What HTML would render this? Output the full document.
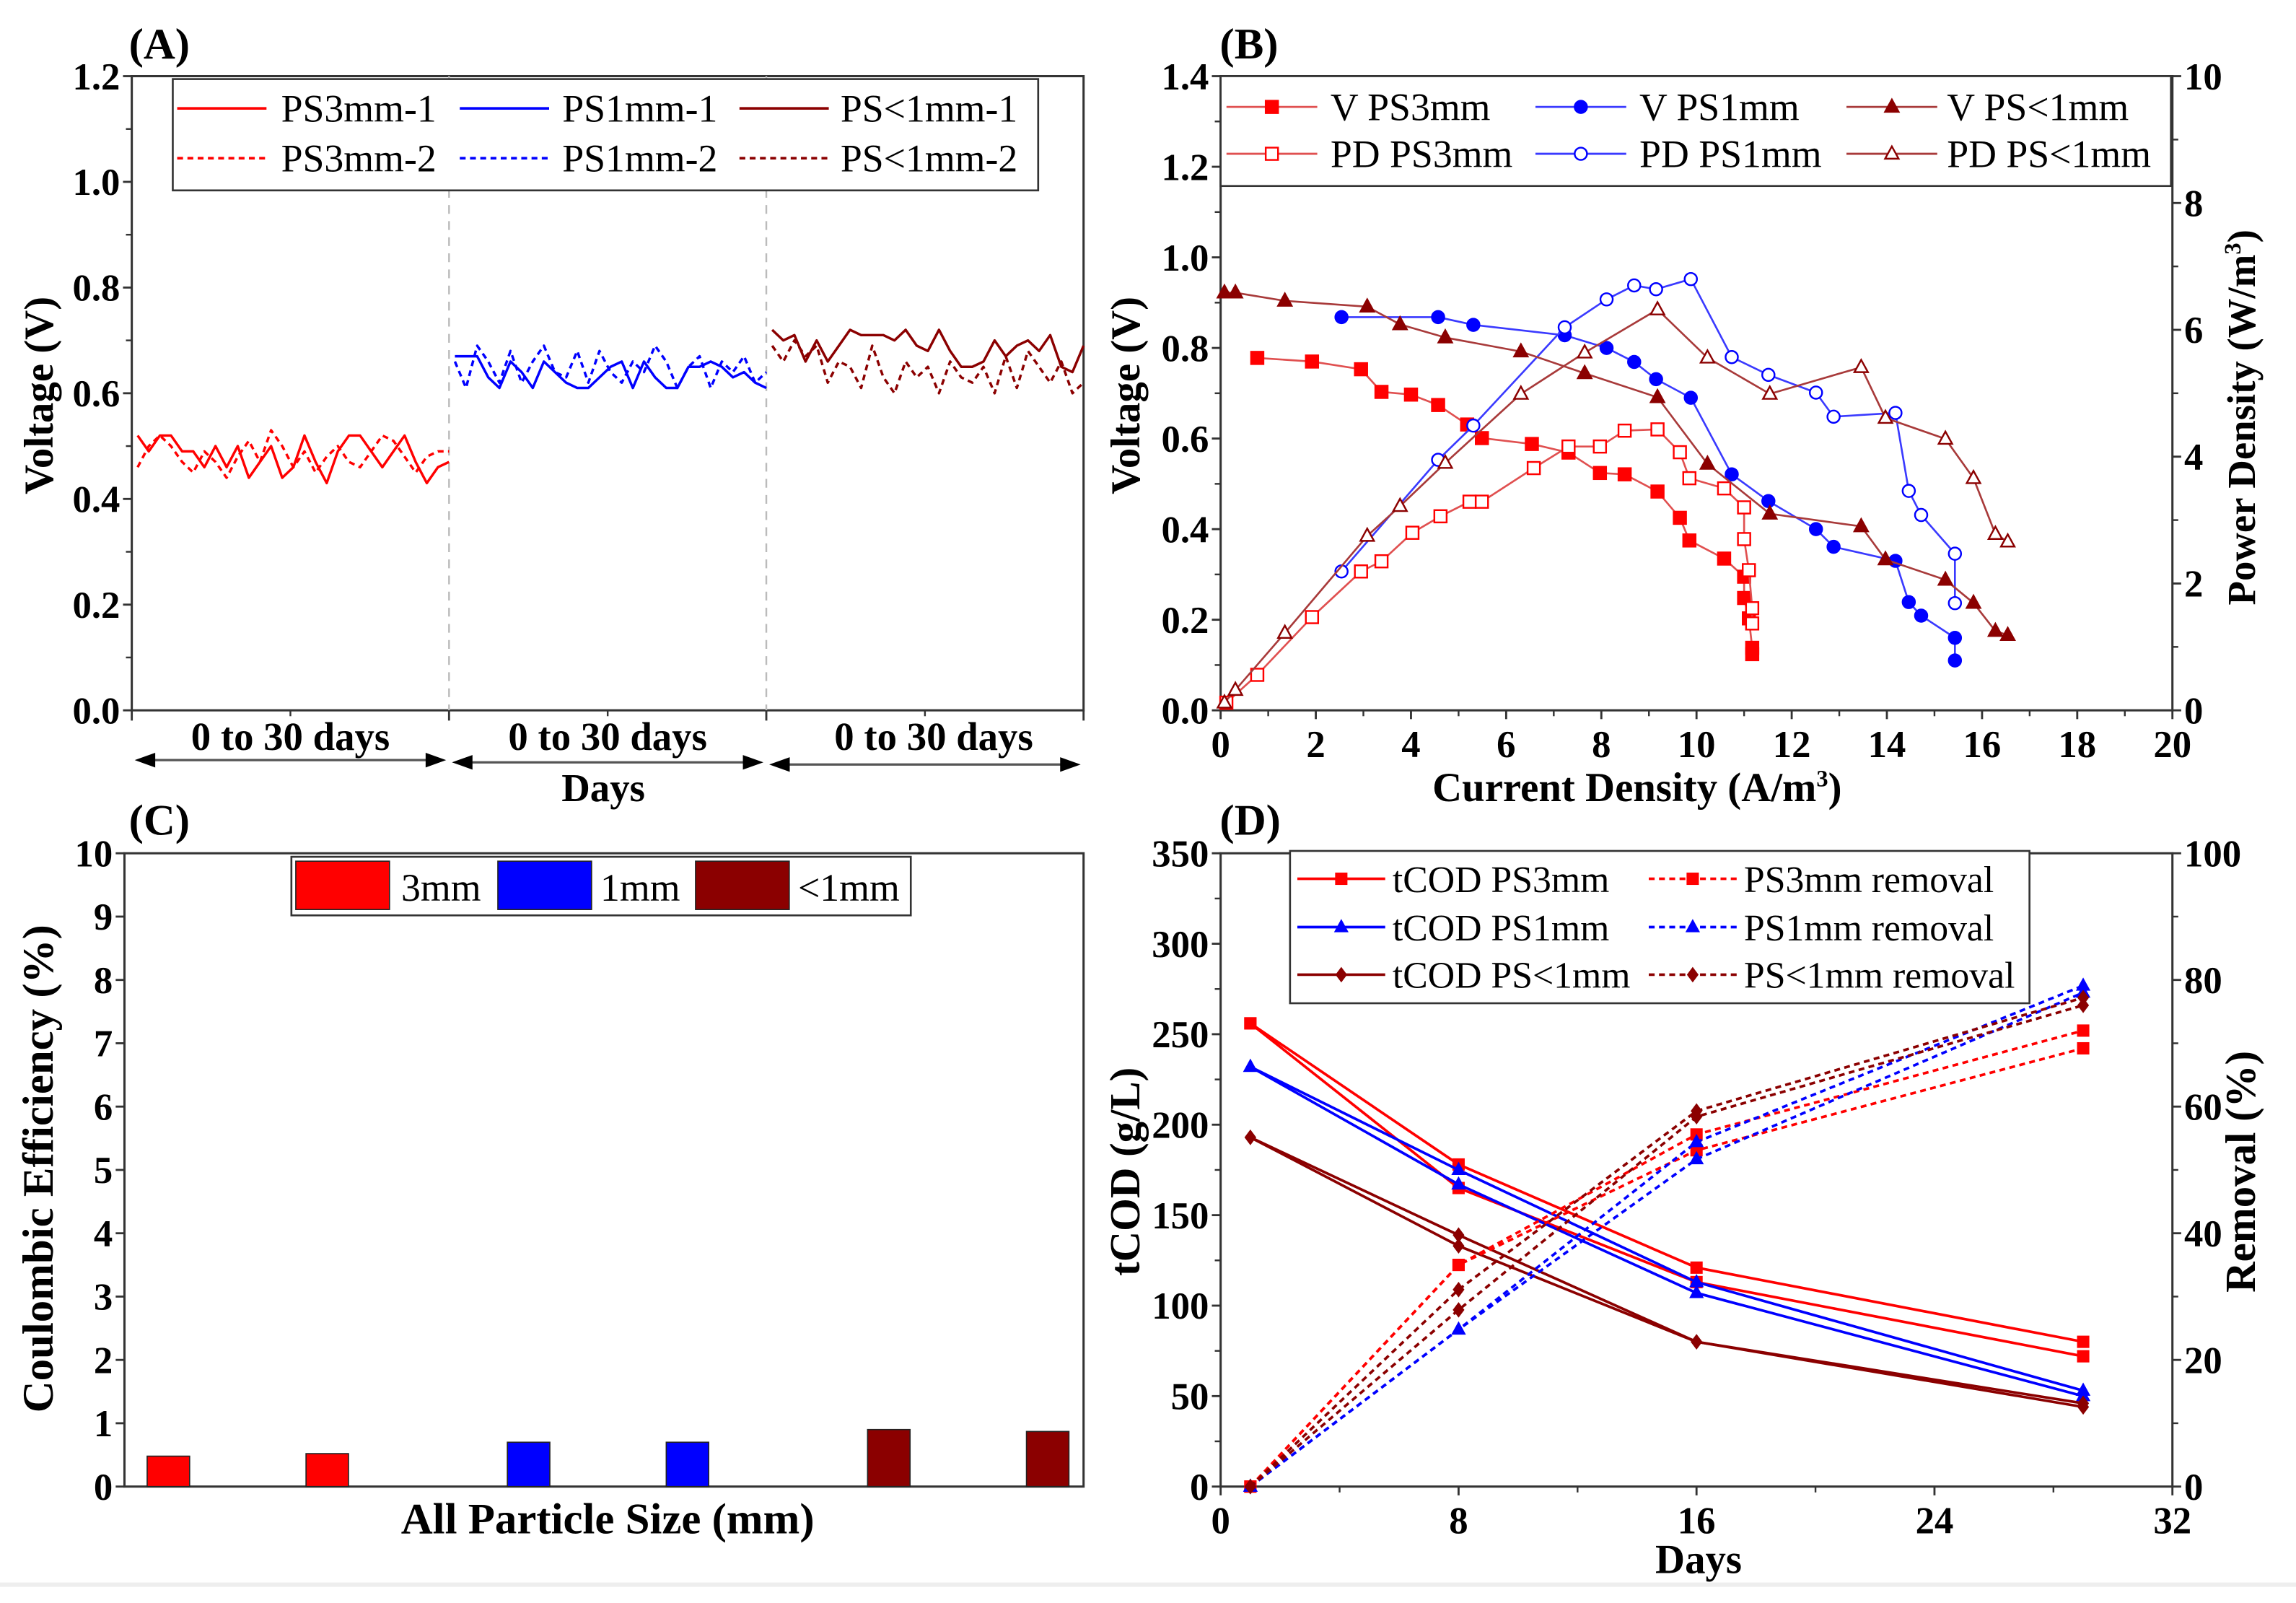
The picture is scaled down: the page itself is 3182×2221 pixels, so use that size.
<!DOCTYPE html>
<html><head><meta charset="utf-8"><style>
html,body{margin:0;padding:0;background:#fff}
svg{display:block}
text{font-family:"Liberation Serif",serif}
</style></head><body>
<svg id="fig" width="3182" height="2221" viewBox="0 0 1568 1094.5" preserveAspectRatio="none" xmlns="http://www.w3.org/2000/svg">
<rect x="0" y="0" width="1568" height="1094.5" fill="#fff"/>
<line x1="0" y1="1082" x2="1568" y2="1082" stroke="#eeeeee" stroke-width="3"/>
</svg>
<script>
// ---------- Panel A data ----------
const aSegLabels = ["0 to 30 days","0 to 30 days","0 to 30 days"];
const aPS3_1 = [0.52,0.49,0.52,0.52,0.49,0.49,0.46,0.50,0.46,0.50,0.44,0.47,0.50,0.44,0.46,0.52,0.47,0.43,0.49,0.52,0.52,0.49,0.46,0.49,0.52,0.47,0.43,0.46,0.47];
const aPS3_2 = [0.46,0.50,0.52,0.50,0.47,0.45,0.49,0.47,0.44,0.48,0.51,0.47,0.53,0.50,0.46,0.49,0.45,0.48,0.50,0.47,0.46,0.49,0.52,0.51,0.48,0.45,0.48,0.49,0.49];
const aPS1_1 = [0.67,0.67,0.67,0.63,0.61,0.66,0.64,0.61,0.66,0.64,0.62,0.61,0.61,0.63,0.65,0.66,0.61,0.66,0.63,0.61,0.61,0.65,0.65,0.66,0.65,0.63,0.64,0.62,0.61];
const aPS1_2 = [0.66,0.61,0.69,0.66,0.62,0.68,0.62,0.66,0.69,0.64,0.63,0.68,0.62,0.68,0.64,0.62,0.66,0.64,0.69,0.66,0.61,0.65,0.67,0.61,0.66,0.64,0.67,0.62,0.64];
const aPSs_1 = [0.72,0.70,0.71,0.66,0.70,0.66,0.69,0.72,0.71,0.71,0.71,0.70,0.72,0.69,0.68,0.72,0.68,0.65,0.65,0.66,0.70,0.67,0.69,0.70,0.68,0.71,0.65,0.64,0.69];
const aPSs_2 = [0.69,0.66,0.70,0.67,0.69,0.62,0.66,0.65,0.61,0.69,0.63,0.60,0.66,0.63,0.65,0.60,0.66,0.63,0.62,0.65,0.60,0.67,0.61,0.68,0.65,0.62,0.66,0.60,0.62];
const aYTicks = [0,0.2,0.4,0.6,0.8,1.0,1.2];
// ---------- Panel B data ----------
const bX3 = [0.77,1.92,2.95,3.38,4.0,4.57,5.18,5.49,6.54,7.31,7.97,8.49,9.18,9.65,9.85,10.58,11.0,11.0,11.1,11.17,11.17];
const bV3 = [0.778,0.770,0.753,0.703,0.697,0.674,0.631,0.601,0.588,0.569,0.524,0.521,0.483,0.425,0.375,0.335,0.295,0.248,0.203,0.138,0.124];
const bXP3 = [0.12,0.77,1.92,2.95,3.38,4.03,4.62,5.23,5.49,6.58,7.31,7.97,8.49,9.18,9.65,9.85,10.58,11.0,11.0,11.1,11.17,11.17];
const bPD3 = [0.12,0.56,1.47,2.19,2.35,2.80,3.06,3.29,3.29,3.82,4.16,4.16,4.41,4.43,4.07,3.66,3.50,3.20,2.70,2.21,1.61,1.37];
const bX1 = [2.54,4.57,5.31,7.23,8.11,8.69,9.15,9.88,10.74,11.51,12.51,12.88,14.18,14.46,14.72,15.43,15.43];
const bV1 = [0.868,0.868,0.851,0.828,0.800,0.769,0.731,0.690,0.521,0.462,0.400,0.361,0.330,0.239,0.209,0.160,0.110];
const bPD1 = [2.19,3.95,4.49,6.04,6.48,6.70,6.64,6.80,5.57,5.29,5.01,4.63,4.69,3.46,3.08,2.47,1.69];
const bXs = [0.08,0.31,1.35,3.08,3.77,4.72,6.31,7.65,9.18,10.23,11.54,13.46,13.97,15.23,15.82,16.28,16.54];
const bVs = [0.922,0.922,0.904,0.891,0.852,0.823,0.792,0.744,0.691,0.544,0.434,0.406,0.333,0.288,0.237,0.175,0.166];
const bPDs = [0.12,0.32,1.22,2.75,3.22,3.90,4.99,5.64,6.32,5.56,4.99,5.41,4.61,4.28,3.66,2.78,2.66];
const bXTicks = [0,2,4,6,8,10,12,14,16,18,20];
const bYTicks = [0,0.2,0.4,0.6,0.8,1.0,1.2,1.4];
const bY2Ticks = [0,2,4,6,8,10];
// ---------- Panel C data ----------
const cGroups = ["3mm","1mm","<1mm"];
const cValues = [0.48,0.52,0.70,0.70,0.90,0.87];
const cYTicks = [0,1,2,3,4,5,6,7,8,9,10];
// ---------- Panel D data ----------
const dDays = [1,8,16,29];
const dCOD3a = [256,178,121,80];
const dCOD3b = [256,165,113,72];
const dCOD1a = [232,175,113,53];
const dCOD1b = [232,167,107,50];
const dCODsa = [193,139,80,46];
const dCODsb = [193,133,80,44];
const dRem3a = [0,35.0,55.6,72.0];
const dRem3b = [0,35.0,53.1,69.2];
const dRem1a = [0,24.8,54.4,79.1];
const dRem1b = [0,24.8,51.7,78.0];
const dRemsa = [0,31.1,59.3,77.2];
const dRemsb = [0,27.9,58.4,76.0];
const dXTicks = [0,8,16,24,32];
const dYTicks = [0,50,100,150,200,250,300,350];
const dY2Ticks = [0,20,40,60,80,100];

const NS="http://www.w3.org/2000/svg";
const svg=document.getElementById('fig');
const RED="#ff0000", BLUE="#0000ff", DRED="#8b0000";
const TICK=26, LEG=26.5, TITLE=29;
function mk(tag,attrs,parent){const e=document.createElementNS(NS,tag);for(const k in attrs)e.setAttribute(k,attrs[k]);(parent||svg).appendChild(e);return e;}
function txt(s,x,y,size,anchor,weight,parent,rot){const t=mk('text',{x:x,y:y,'font-size':size,'text-anchor':anchor||'middle','font-weight':weight||'bold',fill:'#000'},parent);if(rot)t.setAttribute('transform','rotate(-90 '+x+' '+y+')');t.textContent=s;return t;}
function lin(d0,d1,r0,r1){return v=>r0+(v-d0)/(d1-d0)*(r1-r0);}
function poly(xs,ys,sx,sy,color,dash,w,name,parent){const pts=xs.map((x,i)=>sx(x).toFixed(2)+','+sy(ys[i]).toFixed(2)).join(' ');const p=mk('polyline',{points:pts,fill:'none',stroke:color,'stroke-width':w||1.6,'stroke-linejoin':'round'},parent);if(dash)p.setAttribute('stroke-dasharray',dash);


return p;}
function marker(type,x,y,color,filled,parent,s){s=s||4.2;let e;const f=filled?color:'#fff';
if(type==='sq')e=mk('rect',{x:x-s,y:y-s,width:2*s,height:2*s,fill:f,stroke:color,'stroke-width':1.2},parent);
else if(type==='ci')e=mk('circle',{cx:x,cy:y,r:s,fill:f,stroke:color,'stroke-width':1.2},parent);
else if(type==='tr')e=mk('polygon',{points:(x)+','+(y-s*1.2)+' '+(x-s*1.1)+','+(y+s*0.8)+' '+(x+s*1.1)+','+(y+s*0.8),fill:f,stroke:color,'stroke-width':1.2},parent);
else e=mk('polygon',{points:x+','+(y-s*1.2)+' '+(x+s*0.9)+','+y+' '+x+','+(y+s*1.2)+' '+(x-s*0.9)+','+y,fill:f,stroke:color,'stroke-width':1.2},parent);


return e;}
function frame(x0,y0,x1,y1,parent){mk('rect',{x:x0,y:y0,width:x1-x0,height:y1-y0,fill:'none',stroke:'#333','stroke-width':1.5},parent);}
function yAxis(ticks,sy,x,side,parent,fmt,minor){ticks.forEach((v,i)=>{const y=sy(v);mk('line',{x1:x,y1:y,x2:x+(side<0?-6:6),y2:y,stroke:'#333','stroke-width':1.4},parent);
txt(fmt(v),x+(side<0?-8:8),y+9,TICK,side<0?'end':'start','bold',parent);
if(minor&&i<ticks.length-1){const ym=sy((v+ticks[i+1])/2);mk('line',{x1:x,y1:ym,x2:x+(side<0?-4:4),y2:ym,stroke:'#333','stroke-width':1.2},parent);}});}
function xAxis(ticks,sx,y,parent,fmt,minor){ticks.forEach((v,i)=>{const x=sx(v);mk('line',{x1:x,y1:y,x2:x,y2:y+6,stroke:'#333','stroke-width':1.4},parent);
txt(fmt(v),x,y+32,TICK,'middle','bold',parent);
if(minor&&i<ticks.length-1){const xm=sx((v+ticks[i+1])/2);mk('line',{x1:xm,y1:y,x2:xm,y2:y+4,stroke:'#333','stroke-width':1.2},parent);}});}

// ================= Panel A =================
(function(){
const g=mk('g',{});


const X0=90,X1=740,Y0=52,Y1=485;
const sy=lin(0,1.2,Y1,Y0);
txt('(A)',88,40,30,'start','bold',g);
frame(X0,Y0,X1,Y1,g);
const segW=(X1-X0)/3;
[1,2].forEach(k=>mk('line',{x1:X0+k*segW,y1:Y0,x2:X0+k*segW,y2:Y1,stroke:'#bbb','stroke-width':1.2,'stroke-dasharray':'6,5'},g));
yAxis(aYTicks,sy,X0,-1,g,v=>v.toFixed(1),true);
const series=[[aPS3_1,RED,null,0,'ps3mm-1-line'],[aPS3_2,RED,'4,3',0,'ps3mm-2-line'],[aPS1_1,BLUE,null,1,'ps1mm-1-line'],[aPS1_2,BLUE,'4,3',1,'ps1mm-2-line'],[aPSs_1,DRED,null,2,'pslt1mm-1-line'],[aPSs_2,DRED,'4,3',2,'pslt1mm-2-line']];
series.forEach(s=>{const vals=s[0];const sx=lin(0,vals.length-1,X0+s[3]*segW+4,X0+(s[3]+1)*segW);
poly(vals.map((v,i)=>i),vals,sx,sy,s[1],s[2],1.7,s[4],g);});
for(let k=0;k<=3;k++){mk('line',{x1:X0+k*segW,y1:Y1,x2:X0+k*segW,y2:Y1+7,stroke:'#333','stroke-width':1.4},g);}
for(let k=0;k<3;k++){mk('line',{x1:X0+(k+0.5)*segW,y1:Y1,x2:X0+(k+0.5)*segW,y2:Y1+4,stroke:'#333','stroke-width':1.2},g);}
aSegLabels.forEach((s,k)=>{const cx=X0+(k+0.5)*segW+(k==2?6:0);const t=txt(s,cx,512,TICK+1,'middle','bold',g);


const ay=519+k*1.5, ax0=X0+k*segW+2, ax1=X0+(k+1)*segW-2;
mk('line',{x1:ax0+10,y1:ay,x2:ax1-10,y2:ay,stroke:'#555','stroke-width':1.6},g);
mk('polygon',{points:ax0+','+ay+' '+(ax0+14)+','+(ay-5)+' '+(ax0+14)+','+(ay+5),fill:'#000'},g);
mk('polygon',{points:ax1+','+ay+' '+(ax1-14)+','+(ay-5)+' '+(ax1-14)+','+(ay+5),fill:'#000'},g);});
const xt=txt('Days',412,547,TITLE-2,'middle','bold',g);


const yt=txt('Voltage (V)',36,270,TITLE-1,'middle','bold',g,true);


const lg=mk('g',{},g);


mk('rect',{x:118,y:54,width:591,height:76,fill:'#fff',stroke:'#333','stroke-width':1.3},lg);
const cols=[[121,192],[314,384],[505,574]];
const ents=[['PS3mm-1',RED,null,0,0],['PS1mm-1',BLUE,null,1,0],['PS<1mm-1',DRED,null,2,0],['PS3mm-2',RED,'4,3',0,1],['PS1mm-2',BLUE,'4,3',1,1],['PS<1mm-2',DRED,'4,3',2,1]];
ents.forEach(e=>{const c=cols[e[3]];const y=e[4]?108:74;
const l=mk('line',{x1:c[0],y1:y,x2:c[0]+61,y2:y,stroke:e[1],'stroke-width':1.8},lg);if(e[2])l.setAttribute('stroke-dasharray',e[2]);
const t=txt(e[0],c[1],y+9,LEG,'start','normal',lg);

});
})();

// ================= Panel B =================
(function(){
const g=mk('g',{});


const X0=833.6,X1=1483.6,Y0=52,Y1=485;
const sx=lin(0,20,X0,X1), sy=lin(0,1.4,Y1,Y0), sy2=lin(0,10,Y1,Y0);
txt('(B)',833,40,30,'start','bold',g);
frame(X0,Y0,X1,Y1,g);
yAxis(bYTicks,sy,X0,-1,g,v=>v.toFixed(1),true);
yAxis(bY2Ticks,sy2,X1,1,g,v=>String(v),true);
xAxis(bXTicks,sx,Y1,g,v=>String(v),true);
const LR="#e05050", LB="#3a3aff", LD="#a83a3a";
const S=[[bX3,bV3,sy,'sq',RED,LR,true,'v-ps3mm-line'],[bXP3,bPD3,sy2,'sq',RED,LR,false,'pd-ps3mm-line'],[bX1,bV1,sy,'ci',BLUE,LB,true,'v-ps1mm-line'],[bX1,bPD1,sy2,'ci',BLUE,LB,false,'pd-ps1mm-line'],[bXs,bVs,sy,'tr',DRED,LD,true,'v-pslt1mm-line'],[bXs,bPDs,sy2,'tr',DRED,LD,false,'pd-pslt1mm-line']];
S.forEach(s=>{poly(s[0],s[1],sx,s[2],s[5],null,1.3,s[7],g);s[0].forEach((x,i)=>marker(s[3],sx(x),s[2](s[1][i]),s[4],s[6],g));});
const xt=txt('Current Density (A/m',1118,547,TITLE-1,'middle','bold',g);


const sup=mk('tspan',{dy:-10,'font-size':16},xt);sup.textContent='3';
const cl=mk('tspan',{dy:10},xt);cl.textContent=')';
const yt=txt('Voltage (V)',778,270,TITLE-1,'middle','bold',g,true);


const yt2=txt('Power Density (W/m',1540,285,TITLE-2,'middle','bold',g,true);


const s2=mk('tspan',{dy:-10,'font-size':16},yt2);s2.textContent='3';
const c2=mk('tspan',{dy:10},yt2);c2.textContent=')';
const lg=mk('g',{},g);


mk('rect',{x:833.6,y:52,width:649,height:75,fill:'#fff',stroke:'#333','stroke-width':1.3},lg);
const cols=[[837.6,908.6],[1048.6,1119.6],[1261,1329.6]];
const ents=[['V PS3mm','sq',RED,LR,true,0,0],['V PS1mm','ci',BLUE,LB,true,1,0],['V PS<1mm','tr',DRED,LD,true,2,0],['PD PS3mm','sq',RED,LR,false,0,1],['PD PS1mm','ci',BLUE,LB,false,1,1],['PD PS<1mm','tr',DRED,LD,false,2,1]];
ents.forEach(e=>{const c=cols[e[5]];const y=e[6]?105:73;
mk('line',{x1:c[0],y1:y,x2:c[0]+62,y2:y,stroke:e[3],'stroke-width':1.4},lg);
marker(e[1],c[0]+31,y,e[2],e[4],lg);
const t=txt(e[0],c[1],y+9,LEG,'start','normal',lg);

});
})();

// ================= Panel C =================
(function(){
const g=mk('g',{});


const X0=85,X1=740,Y0=582.6,Y1=1015;
const sy=lin(0,10,Y1,Y0);
txt('(C)',88,570,30,'start','bold',g);
frame(X0,Y0,X1,Y1,g);
yAxis(cYTicks,sy,X0,-1,g,v=>String(v),false);
const cols=[RED,BLUE,DRED];
const bx=(gi,m)=>115+gi*246+m*108.5;
cValues.forEach((v,i)=>{const gi=Math.floor(i/2),m=i%2;const r=mk('rect',{x:bx(gi,m)-14.5,y:sy(v),width:29,height:Y1-sy(v),fill:cols[gi],stroke:'#222','stroke-width':0.8},g);

});
const xt=txt('All Particle Size (mm)',415,1047,TITLE+1,'middle','bold',g);


const yt=txt('Coulombic Efficiency (%)',36,798,TITLE+1,'middle','bold',g,true);


const lg=mk('g',{},g);


mk('rect',{x:199,y:585,width:423,height:40,fill:'#fff',stroke:'#333','stroke-width':1.3},lg);
const sw=[[202,274],[340,410],[475,545]];
cGroups.forEach((s,i)=>{mk('rect',{x:sw[i][0],y:588,width:64,height:33,fill:cols[i],stroke:'#222','stroke-width':0.8},lg);
const t=txt(s,sw[i][1],615,LEG,'start','normal',lg);

});
})();

// ================= Panel D =================
(function(){
const g=mk('g',{});


const X0=833.6,X1=1483.6,Y0=582.6,Y1=1015;
const sx=lin(0,32,X0,X1), sy=lin(0,350,Y1,Y0), sy2=lin(0,100,Y1,Y0);
txt('(D)',833,570,30,'start','bold',g);
frame(X0,Y0,X1,Y1,g);
yAxis(dYTicks,sy,X0,-1,g,v=>String(v),true);
yAxis(dY2Ticks,sy2,X1,1,g,v=>String(v),true);
xAxis(dXTicks,sx,Y1,g,v=>String(v),true);
const S=[[dCOD3a,sy,RED,'sq',null,'tcod-ps3mm-a'],[dCOD3b,sy,RED,'sq',null,'tcod-ps3mm-b'],[dCOD1a,sy,BLUE,'tr',null,'tcod-ps1mm-a'],[dCOD1b,sy,BLUE,'tr',null,'tcod-ps1mm-b'],[dCODsa,sy,DRED,'di',null,'tcod-pslt1mm-a'],[dCODsb,sy,DRED,'di',null,'tcod-pslt1mm-b'],
[dRem3a,sy2,RED,'sq','4,3','removal-ps3mm-a'],[dRem3b,sy2,RED,'sq','4,3','removal-ps3mm-b'],[dRem1a,sy2,BLUE,'tr','4,3','removal-ps1mm-a'],[dRem1b,sy2,BLUE,'tr','4,3','removal-ps1mm-b'],[dRemsa,sy2,DRED,'di','4,3','removal-pslt1mm-a'],[dRemsb,sy2,DRED,'di','4,3','removal-pslt1mm-b']];
S.forEach(s=>{poly(dDays,s[0],sx,s[1],s[2],s[4],1.8,s[5],g);dDays.forEach((d,i)=>marker(s[3],sx(d),s[1](s[0][i]),s[2],true,g,3.6));});
const xt=txt('Days',1160,1074,TITLE-1,'middle','bold',g);


const yt=txt('tCOD (g/L)',778,800,TITLE,'middle','bold',g,true);


const yt2=txt('Removal (%)',1540,800,TITLE,'middle','bold',g,true);


const lg=mk('g',{},g);


mk('rect',{x:881,y:581,width:505,height:104,fill:'#fff',stroke:'#333','stroke-width':1.3},lg);
const ents=[['tCOD PS3mm',RED,'sq',null,0,0],['tCOD PS1mm',BLUE,'tr',null,0,1],['tCOD PS<1mm',DRED,'di',null,0,2],['PS3mm removal',RED,'sq','4,3',1,0],['PS1mm removal',BLUE,'tr','4,3',1,1],['PS<1mm removal',DRED,'di','4,3',1,2]];
const cols=[[886,951],[1126,1191]];const rows=[600,633,665.5];
ents.forEach(e=>{const c=cols[e[4]],y=rows[e[5]];
const l=mk('line',{x1:c[0],y1:y,x2:c[0]+60,y2:y,stroke:e[1],'stroke-width':1.8},lg);if(e[3])l.setAttribute('stroke-dasharray',e[3]);
marker(e[2],c[0]+30,y,e[1],true,lg,3.6);
const t=txt(e[0],c[1],y+9,LEG-1,'start','normal',lg);

});
})();
</script>
</body></html>
